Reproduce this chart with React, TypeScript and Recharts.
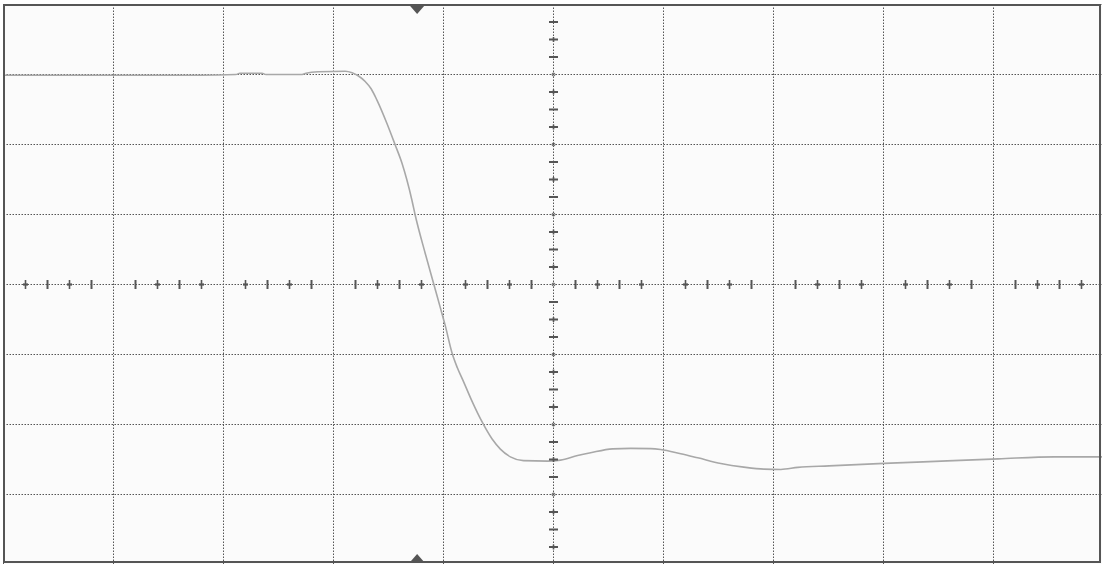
import React from 'react';
import { LineChart, Line, XAxis, YAxis, CartesianGrid, ReferenceDot } from 'recharts';

// trace, in screen divisions (10 across, 8 high, origin at left / centre)
const traceX = [
  0, 0.874, 1.785, 2.113, 2.149, 2.35, 2.386, 2.714, 2.75, 2.86, 3.106, 3.169, 3.224, 3.288, 3.342, 3.394,
  3.485, 3.561, 3.622, 3.713, 3.743, 3.834, 3.91, 3.971, 4.016, 4.077, 4.126, 4.183, 4.262, 4.351, 4.442,
  4.517, 4.608, 4.727, 4.945, 5.064, 5.219, 5.337, 5.537, 5.701, 5.883, 5.974, 6.157, 6.311, 6.521, 6.73,
  6.913, 7.067, 7.222, 7.505, 8.005, 8.525, 9.044, 9.554, 10,
];
const traceY = [
  2.99, 2.99, 2.99, 3.0, 3.018, 3.018, 3.0, 3.0, 3.018, 3.04, 3.047, 3.025, 2.982, 2.9, 2.796, 2.638,
  2.304, 1.993, 1.735, 1.204, 0.989, 0.444, 0.014, -0.330, -0.588, -0.975, -1.190, -1.391, -1.677, -1.964, -2.208,
  -2.351, -2.462, -2.516, -2.523, -2.509, -2.444, -2.404, -2.348, -2.341, -2.345, -2.358, -2.419, -2.476, -2.556, -2.609,
  -2.638, -2.642, -2.612, -2.591, -2.556, -2.523, -2.491, -2.462, -2.462,
];

const xDivs = [0, 1, 2, 3, 4, 5, 6, 7, 8, 9, 10];
const yDivs = [-4, -3, -2, -1, 0, 1, 2, 3, 4];
const triggerX = 3.76;

const data = traceX.map((x, i) => ({ x, v: traceY[i] }));

const INK = '#555';

// minor ticks along the centre axes
const hTicks: { x: number; kind: string }[] = [];
for (let d = 0; d < 10; d++) {
  for (let k = 1; k <= 4; k++) {
    hTicks.push({ x: d + k / 5, kind: (k + d) % 2 === 0 ? 'bar' : 'cross' });
  }
}
const vTicks: { y: number; kind: string }[] = [];
for (let d = 0; d < 8; d++) {
  for (let k = 1; k <= 3; k++) {
    vTicks.push({ y: 4 - d - k / 4, kind: (k + d) % 2 === 1 ? 'bar' : 'cross' });
  }
}

const HTick = ({ cx, cy, kind }: any) => (
  <g>
    <line x1={cx} y1={cy - 4.5} x2={cx} y2={cy + 4.5} stroke={INK} strokeWidth={kind === 'bar' ? 2 : 1.6} />
    {kind === 'cross' && <line x1={cx - 2.5} y1={cy} x2={cx + 2.5} y2={cy} stroke={INK} strokeWidth={2.2} />}
  </g>
);

const VTick = ({ cx, cy, kind }: any) => (
  <g>
    <line x1={cx - 4.5} y1={cy} x2={cx + 4.5} y2={cy} stroke={INK} strokeWidth={2} />
    {kind === 'cross' && <line x1={cx} y1={cy - 2.5} x2={cx} y2={cy + 2.5} stroke={INK} strokeWidth={1.6} />}
  </g>
);

const App = () => {
  return (
    <div style={{ position: 'fixed', left: 0, top: 0, width: 1102, height: 564, background: '#fff', overflow: 'hidden' }}>
      <LineChart width={1104} height={565} data={data} margin={{ top: 4.5, right: 0.5, bottom: 0.5, left: 3.5 }}>
        <CartesianGrid stroke="#555" strokeWidth={1} strokeDasharray="1.5 1.5" fill="#fbfbfb" />
        <XAxis dataKey="x" type="number" domain={[0, 10]} ticks={xDivs} hide />
        <YAxis type="number" domain={[-4, 4]} ticks={yDivs} hide />
        {hTicks.map((t) => (
          <ReferenceDot key={'h' + t.x} x={t.x} y={0} r={0} shape={(p: any) => <HTick cx={p.cx} cy={p.cy} kind={t.kind} />} />
        ))}
        {vTicks.map((t) => (
          <ReferenceDot key={'v' + t.y} x={5} y={t.y} r={0} shape={(p: any) => <VTick cx={p.cx} cy={p.cy} kind={t.kind} />} />
        ))}
        {yDivs.slice(1, -1).map((y) => (
          <ReferenceDot key={'oy' + y} x={5} y={y} r={1.5} fill="none" stroke={INK} strokeWidth={1} />
        ))}
        <ReferenceDot
          x={triggerX}
          y={4}
          r={0}
          shape={(p: any) => <polygon points={`${p.cx - 7},${p.cy + 1.5} ${p.cx + 7},${p.cy + 1.5} ${p.cx},${p.cy + 9.5}`} fill="#555" />}
        />
        <ReferenceDot
          x={triggerX}
          y={-4}
          r={0}
          shape={(p: any) => <polygon points={`${p.cx - 7},${p.cy - 2.5} ${p.cx + 7},${p.cy - 2.5} ${p.cx},${p.cy - 10.5}`} fill="#555" />}
        />
        <Line type="monotone" dataKey="v" stroke="#a8a8a8" strokeWidth={1.6} dot={false} isAnimationActive={false} />
      </LineChart>
      <div
        style={{
          position: 'absolute',
          left: 3,
          top: 4,
          width: 1098,
          height: 559,
          border: '2px solid #555',
          boxSizing: 'border-box',
          pointerEvents: 'none',
        }}
      />
    </div>
  );
};

export default App;
